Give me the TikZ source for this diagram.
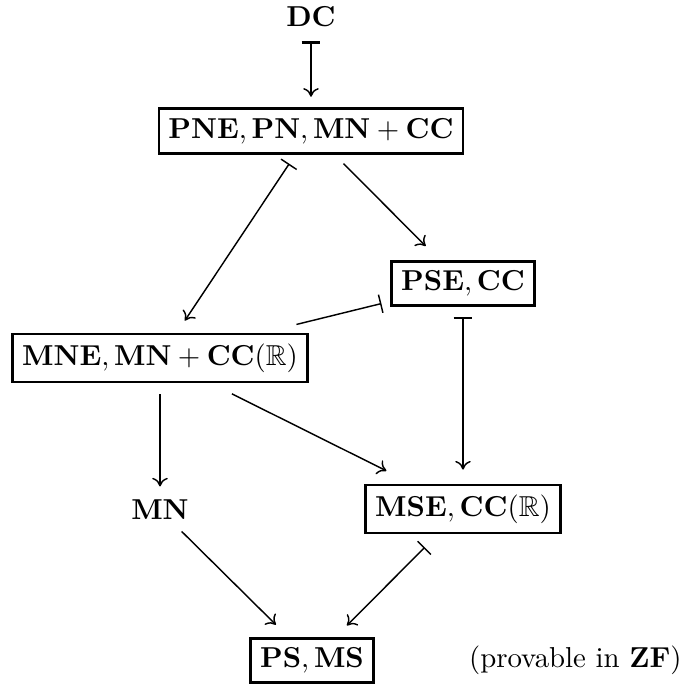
\documentclass[tikz,border=0pt]{standalone}
\usepackage{amssymb}
\usetikzlibrary{arrows.meta}
\begin{document}
\begin{tikzpicture}[x=0.347pt,y=-0.347pt,
  box/.style={draw,line width=0.9pt,inner sep=3.33pt},
  plain/.style={inner sep=3.33pt},
  conn/.style={line width=0.5pt,-{To[length=3pt,width=5.4pt]}},
  barconn/.style={line width=0.5pt,{Bar[width=6.5pt]}-{To[length=3pt,width=5.4pt]}},
  bartip/.style={line width=0.5pt,-{Bar[width=6.5pt]}}]
\useasboundingbox (0,0) rectangle (681,684);
\node[plain] (DC) at (311,17) {$\mathbf{DC}$};
\node[box] (PNE) at (311,131) {$\mathbf{PNE},\mathbf{PN},\mathbf{MN}+\mathbf{CC}$};
\node[box] (PSE) at (463,283.5) {$\mathbf{PSE},\mathbf{CC}$};
\node[box] (MNE) at (160,358) {$\mathbf{MNE},\mathbf{MN}+\mathbf{CC}(\mathbb{R})$};
\node[plain] (MN) at (160,510) {$\mathbf{MN}$};
\node[box] (MSE) at (463,509) {$\mathbf{MSE},\mathbf{CC}(\mathbb{R})$};
\node[box] (PS) at (312,660.5) {$\mathbf{PS},\mathbf{MS}$};
\node[anchor=base west,inner sep=0pt] (ZF) at ([xshift=54.3pt]PS.base) {(provable in $\mathbf{ZF}$)};
\draw[line width=0.5pt,{Bar[width=6.5pt,line width=1.2pt]}-{To[length=3pt,width=5.4pt]},shorten <=1.2pt,shorten >=3.7pt] (DC) -- (PNE);
\draw[barconn,shorten <=3.8pt,shorten >=5pt] (PNE) -- (MNE);
\draw[conn,shorten <=4.4pt,shorten >=6.8pt] (PNE) -- (PSE);
\draw[bartip,shorten <=12pt,shorten >=3.2pt] (MNE) -- (PSE);
\draw[barconn,shorten <=3.5pt,shorten >=4.9pt] (PSE) -- (MSE);
\draw[conn,shorten <=3.8pt,shorten >=1.2pt] (MNE) -- (MN);
\draw[conn,shorten <=8.2pt,shorten >=10pt] (MNE) -- (MSE);
\draw[conn,shorten <=0.7pt,shorten >=6pt] (MN) -- (PS);
\draw[barconn,shorten <=6.4pt,shorten >=5.6pt] (MSE) -- (PS);
\end{tikzpicture}
\end{document}
